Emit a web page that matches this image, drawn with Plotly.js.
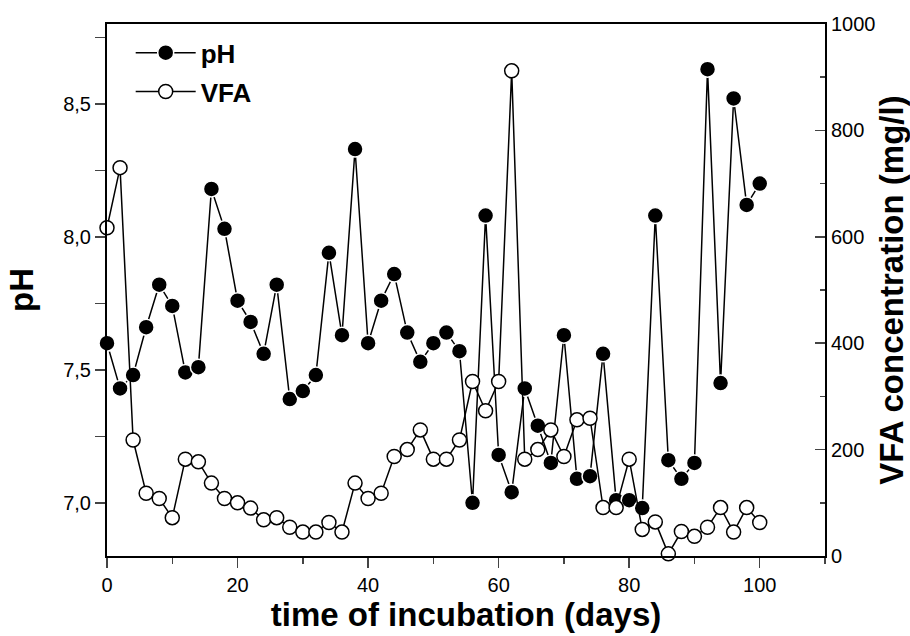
<!DOCTYPE html>
<html>
<head>
<meta charset="utf-8">
<script src="https://cdn.plot.ly/plotly-3.0.1.min.js"></script>
<style>html,body{margin:0;padding:0;background:#fff;}#chart{width:910px;height:636px;}</style>
</head>
<body>
<div id="chart"></div>
<script>
var days = [0,2,4,6,8,10,12,14,16,18,20,22,24,26,28,30,32,34,36,38,40,42,44,46,48,50,52,54,56,58,60,62,64,66,68,70,72,74,76,78,80,82,84,86,88,90,92,94,96,98,100];
var pH = [7.60,7.43,7.48,7.66,7.82,7.74,7.49,7.51,8.18,8.03,7.76,7.68,7.56,7.82,7.39,7.42,7.48,7.94,7.63,8.33,7.60,7.76,7.86,7.64,7.53,7.60,7.64,7.57,7.00,8.08,7.18,7.04,7.43,7.29,7.15,7.63,7.09,7.10,7.56,7.01,7.01,6.98,8.08,7.16,7.09,7.15,8.63,7.45,8.52,8.12,8.20];
var vfa = [617,730,218,118,108,72,182,177,137,108,100,90,68,72,54,45,45,63,45,137,108,118,187,200,237,182,182,218,328,273,328,912,182,200,237,187,256,259,91,91,182,50,64,4,46,37,54,91,45,91,63];
var pHTicks = [7.0,7.5,8.0,8.5];
var vfaTicks = [0,200,400,600,800,1000];
var xTicks = [0,20,40,60,80,100];

var FONT = 'Liberation Sans, Arial, sans-serif';

var tracePH = {
  x: days, y: pH, name: 'pH', type: 'scatter', mode: 'lines+markers',
  line: {color: '#000', width: 1.5},
  marker: {symbol: 'circle', size: 16, color: '#000', line: {color: '#fff', width: 1.5}},
  legendgroup: 'a', cliponaxis: false
};
var traceVFA = {
  x: days, y: vfa, name: 'VFA', type: 'scatter', mode: 'lines+markers', yaxis: 'y2',
  line: {color: '#000', width: 1.5},
  marker: {symbol: 'circle', size: 14, color: '#fff', line: {color: '#000', width: 1.5}},
  legendgroup: 'b', cliponaxis: false
};

var layout = {
  width: 910, height: 636,
  margin: {l: 107, r: 85, t: 24, b: 80},
  paper_bgcolor: '#fff', plot_bgcolor: '#fff',
  separators: ',.',
  font: {family: FONT, color: '#000', size: 20},
  showlegend: true,
  legend: {
    x: 0.033, y: 0.99, xanchor: 'left', yanchor: 'top',
    bgcolor: 'rgba(0,0,0,0)', borderwidth: 0,
    font: {family: FONT, size: 26, color: '#000', weight: 'bold'},
    traceorder: 'grouped', tracegroupgap: 2, itemwidth: 60
  },
  xaxis: {
    range: [0, 110], tickvals: xTicks, ticks: 'outside', ticklen: 10, tickwidth: 1.5,
    minor: {dtick: 10, tick0: 0, ticks: 'outside', ticklen: 6, tickwidth: 1.5, showgrid: false},
    showline: true, linewidth: 2, linecolor: '#000', mirror: true,
    showgrid: false, zeroline: false,
    tickfont: {family: FONT, size: 20},
    title: {text: 'time of incubation (days)', font: {family: FONT, size: 33, weight: 'bold'}, standoff: 6}
  },
  yaxis: {
    range: [6.8, 8.8], tickvals: pHTicks, tickformat: '.1f', ticks: 'outside', ticklen: 10, tickwidth: 1.5,
    minor: {dtick: 0.25, tick0: 7.0, ticks: 'outside', ticklen: 10, tickwidth: 1.5, showgrid: false},
    showline: true, linewidth: 2, linecolor: '#000',
    showgrid: false, zeroline: false,
    tickfont: {family: FONT, size: 20},
    title: {text: 'pH', font: {family: FONT, size: 33, weight: 'bold'}, standoff: 20}
  },
  yaxis2: {
    overlaying: 'y', side: 'right', range: [0, 1000], tickvals: vfaTicks,
    ticks: 'inside', ticklen: 10, tickwidth: 1.5,
    minor: {dtick: 100, tick0: 0, ticks: 'inside', ticklen: 5, tickwidth: 1.5, showgrid: false},
    showline: true, linewidth: 2, linecolor: '#000',
    showgrid: false, zeroline: false,
    tickfont: {family: FONT, size: 20},
    title: {text: 'VFA concentration (mg/l)', font: {family: FONT, size: 33, weight: 'bold'}, standoff: 8}
  }
};

Plotly.newPlot('chart', [tracePH, traceVFA], layout, {displayModeBar: false, staticPlot: true});
</script>
</body>
</html>
